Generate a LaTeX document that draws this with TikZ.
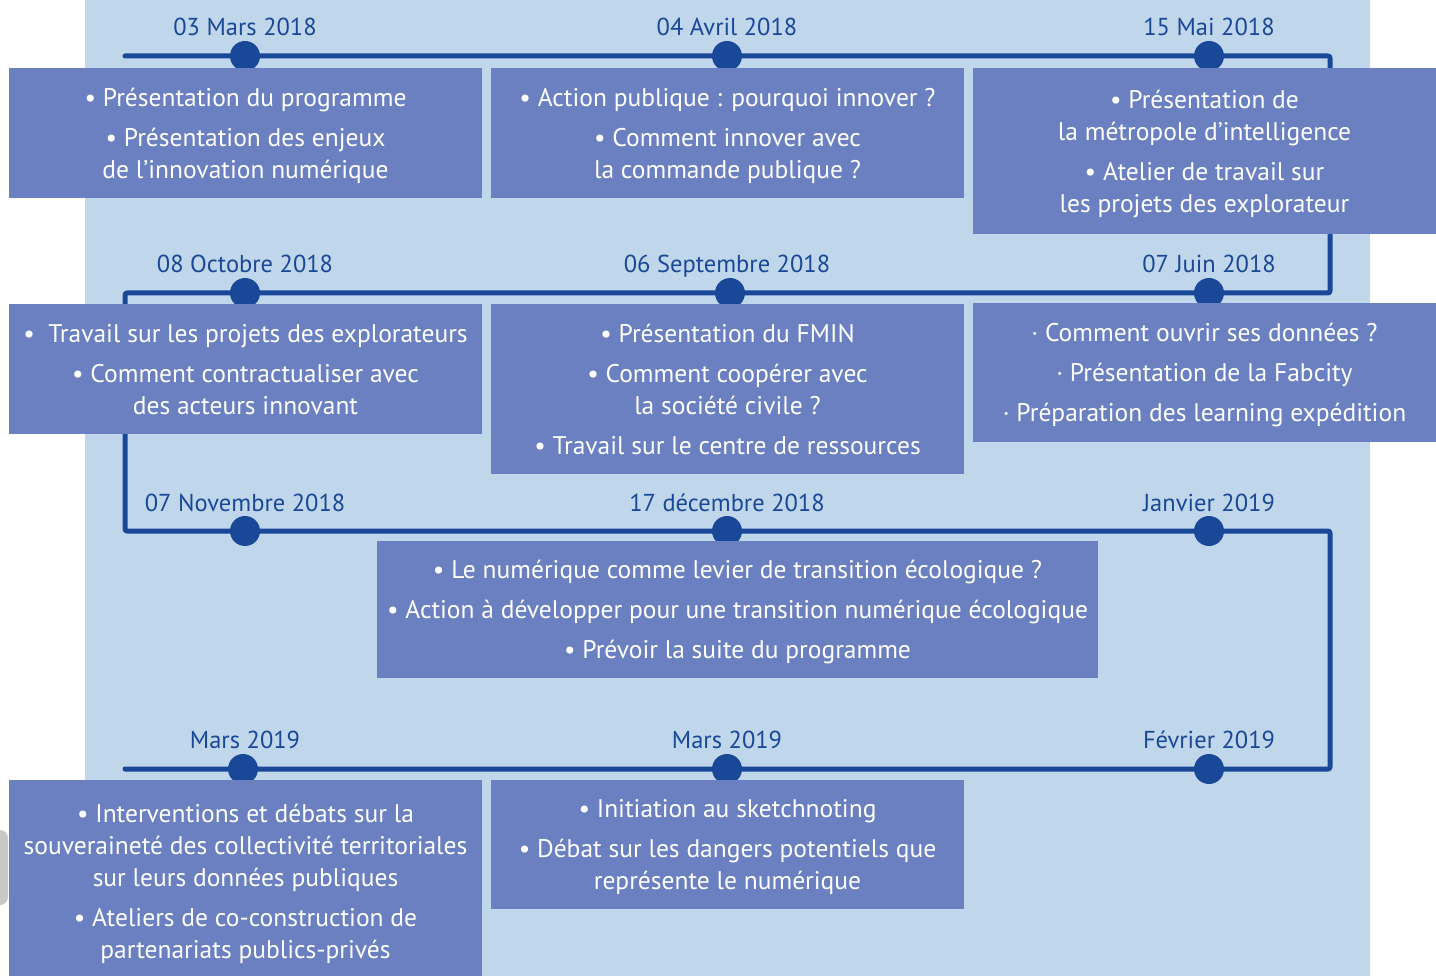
\documentclass[tikz,border=0pt]{standalone}
\usepackage{fontspec}
\setmainfont{PT Sans}
\definecolor{bgblue}{HTML}{C0D6EA}
\definecolor{boxblue}{HTML}{6A80C0}
\definecolor{lineblue}{HTML}{1A4898}
\definecolor{grayhandle}{HTML}{C8C8C8}
\tikzset{
  boxnode/.style={fill=boxblue, draw=none, inner sep=0pt},
  boxtext/.style={text=white, align=center, inner sep=0pt, yshift=-3pt,
    font=\fontsize{25.5}{32}\selectfont},
  datenode/.style={text=lineblue, anchor=base, inner sep=0pt, font=\fontsize{24.5}{28}\selectfont},
  dotnode/.style={circle, fill=lineblue, minimum size=30pt, inner sep=0pt},
  timeline/.style={draw=lineblue, line width=5pt, line cap=round, line join=round, rounded corners=2pt},
}
\newcommand{\gp}{\\[8pt]}
\begin{document}
\begin{tikzpicture}[x=1pt,y=-1pt]
\useasboundingbox (0,0) rectangle (1436,976);
\fill[white] (0,0) rectangle (1436,976);
\fill[bgblue] (85,0) rectangle (1370,976);
\fill[grayhandle, rounded corners=8pt] (-20,830) rectangle (8,905);

% corner coordinates
\coordinate (s) at (125,56);
\coordinate (c1) at (1330,56);
\coordinate (c2) at (1330,293);
\coordinate (c3) at (125,293);
\coordinate (c4) at (125,531);
\coordinate (c5) at (1330,531);
\coordinate (c6) at (1330,769);
\coordinate (e) at (125,769);

\draw[timeline] (s) -- (c1) -- (c2) -- (c3) -- (c4) -- (c5) -- (c6) -- (e);

% dots
\node[dotnode] (d1) at (245,56) {};
\node[dotnode] (d2) at (727,56) {};
\node[dotnode] (d3) at (1209,56) {};
\node[dotnode] (d4) at (245,293) {};
\node[dotnode] (d5) at (730,293) {};
\node[dotnode] (d6) at (1209,293) {};
\node[dotnode] (d7) at (245,531) {};
\node[dotnode] (d8) at (727,531) {};
\node[dotnode] (d9) at (1209,531) {};
\node[dotnode] (d10) at (243,769) {};
\node[dotnode] (d11) at (727,769) {};
\node[dotnode] (d12) at (1209,769) {};

% dates
\node[datenode] (t1) at (245,36) {03 Mars 2018};
\node[datenode] (t2) at (727,36) {04 Avril 2018};
\node[datenode] (t3) at (1209,36) {15 Mai 2018};
\node[datenode] (t4) at (245,273) {08 Octobre 2018};
\node[datenode] (t5) at (727,273) {06 Septembre 2018};
\node[datenode] (t6) at (1209,273) {07 Juin 2018};
\node[datenode] (t7) at (245,511) {07 Novembre 2018};
\node[datenode] (t8) at (727,511) {17 décembre 2018};
\node[datenode] (t9) at (1209,511) {Janvier 2019};
\node[datenode] (t10) at (245,748) {Mars 2019};
\node[datenode] (t11) at (727,748) {Mars 2019};
\node[datenode] (t12) at (1209,748) {Février 2019};

% boxes
\node[boxnode, minimum width=473pt, minimum height=130pt] (b1) at (245.5,133) {};
\node[boxtext] (b1t) at (b1.center)
  {• Présentation du programme\gp • Présentation des enjeux\\de l’innovation numérique};
\node[boxnode, minimum width=473pt, minimum height=130pt] (b2) at (727.5,133) {};
\node[boxtext] (b2t) at (b2.center)
  {• Action publique : pourquoi innover ?\gp • Comment innover avec\\la commande publique ?};
\node[boxnode, minimum width=463pt, minimum height=166pt] (b3) at (1204.5,151) {};
\node[boxtext] (b3t) at (b3.center)
  {• Présentation de\\la métropole d’intelligence\gp • Atelier de travail sur\\les projets des explorateur};

\node[boxnode, minimum width=473pt, minimum height=130pt] (b4) at (245.5,369) {};
\node[boxtext, yshift=2pt] (b4t) at (b4.center)
  {•\ \ Travail sur les projets des explorateurs\gp • Comment contractualiser avec\\des acteurs innovant};
\node[boxnode, minimum width=473pt, minimum height=170pt] (b5) at (727.5,389) {};
\node[boxtext, yshift=3pt] (b5t) at (b5.center)
  {• Présentation du FMIN\gp • Comment coopérer avec\\la société civile ?\gp • Travail sur le centre de ressources};
\node[boxnode, minimum width=463pt, minimum height=139pt] (b6) at (1204.5,372.5) {};
\node[boxtext] (b6t) at (b6.center)
  {· Comment ouvrir ses données ?\gp · Présentation de la Fabcity\gp · Préparation des learning expédition};

\node[boxnode, minimum width=721pt, minimum height=137pt] (b7) at (737.5,609.5) {};
\node[boxtext] (b7t) at (b7.center)
  {• Le numérique comme levier de transition écologique ?\gp • Action à développer pour une transition numérique écologique\gp • Prévoir la suite du programme};

\node[boxnode, minimum width=473pt, minimum height=196pt] (b8) at (245.5,878) {};
\node[boxtext, yshift=-3pt] (b8t) at (b8.center)
  {• Interventions et débats sur la\\souveraineté des collectivité territoriales\\sur leurs données publiques\gp • Ateliers de co-construction de\\partenariats publics-privés};
\node[boxnode, minimum width=473pt, minimum height=129pt] (b9) at (727.5,844.5) {};
\node[boxtext] (b9t) at (b9.center)
  {• Initiation au sketchnoting\gp • Débat sur les dangers potentiels que\\représente le numérique};
\end{tikzpicture}
\end{document}
